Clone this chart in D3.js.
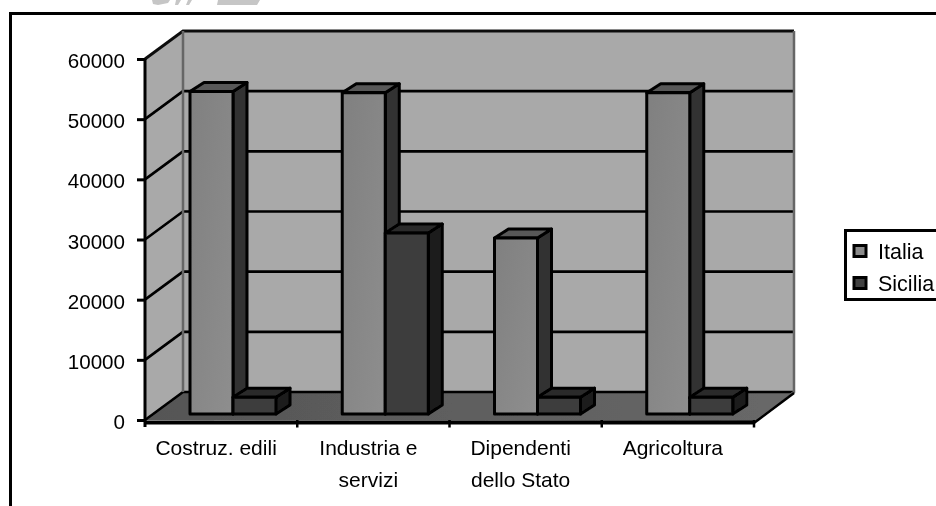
<!DOCTYPE html>
<html><head><meta charset="utf-8">
<script src="https://cdn.jsdelivr.net/npm/d3@7"></script>
<style>html,body{margin:0;padding:0;background:#fff;overflow:hidden}svg{display:block}text{font-family:"Liberation Sans",Arial,sans-serif;fill:#000}</style>
</head><body><svg id="c" width="936" height="506"></svg>
<script>
const categories=[["Costruz. edili"],["Industria e","servizi"],["Dipendenti","dello Stato"],["Agricoltura"]];
const seriesNames=["Italia","Sicilia"];
const italia=[53600,53400,29250,53400];
const sicilia=[2800,30080,2800,2800];
const yTicks=[0,10000,20000,30000,40000,50000,60000];
const fills={Italia:{front:"url(#gI)",side:"#333333",top:"#585858",sw:"#8a8a8a"},Sicilia:{front:"#3c3c3c",side:"#1e1e1e",top:"#2b2b2b",sw:"#404040"}};
const values={Italia:italia,Sicilia:sicilia};

const W=936,H=506,svg=d3.select("#c");
const defs=svg.append("defs");
const lg=defs.append("linearGradient").attr("id","gI").attr("x1",0).attr("y1",0).attr("x2",1).attr("y2",1);
lg.append("stop").attr("offset",0).attr("stop-color","#808080");
lg.append("stop").attr("offset",1).attr("stop-color","#8e8e8e");
const fg=defs.append("linearGradient").attr("id","gF").attr("x1",0).attr("x2",1);
fg.append("stop").attr("offset",0).attr("stop-color","#555");
fg.append("stop").attr("offset",1).attr("stop-color","#686868");
defs.append("filter").attr("id","soft").append("feGaussianBlur").attr("stdDeviation",0.35);
const g=svg.append("g").attr("filter","url(#soft)");

const L=145,R=754,DX=38,DY=28,bdx=14,bdy=9,planeY=6;
const catKeys=categories.map(c=>c.join(" "));
const y=d3.scaleLinear().domain([0,60000]).range([420,59]);
const x=d3.scaleBand().domain(catKeys).range([L,R]);
const xs=d3.scaleBand().domain(seriesNames).range([45,131]);
const line=d3.line();
const poly=(pts,fill,stroke,sw)=>g.append("path").attr("d",line(pts)+"Z").attr("fill",fill).attr("stroke",stroke||"none").attr("stroke-width",sw||0).attr("stroke-linejoin","round");

// watermark fragments and frame
[[[152,0],[170,0],[168,3],[158,5],[153,4]],[[176,0],[181,0],[178,5],[175,5]],[[188,0],[192,0],[189,5],[186,5]],[[218,0],[260,0],[257,5],[217,5]]].forEach(p=>poly(p,"#c6c6c6"));
g.append("path").attr("d","M10.5,506V13.5H936").attr("fill","none").attr("stroke","#000").attr("stroke-width",3);

// walls and floor
const yT=y(60000),y0=y(0);
poly([[L,yT],[L+DX,yT-DY],[L+DX,y0-DY],[L,y0]],"#a9a9a9");
poly([[L+DX,yT-DY],[R+DX+2,yT-DY],[R+DX+2,y0-DY],[L+DX,y0-DY]],"#a9a9a9");
poly([[L,y0],[L+DX,y0-DY],[R+DX+2,y0-DY],[R,y0+1]],"url(#gF)");

// gridlines
yTicks.filter(t=>t<60000).forEach(t=>{
  const v=y(t);
  g.append("path").attr("d",line([[L,v],[L+DX,v-DY],[R+DX+2,v-DY]])).attr("fill","none").attr("stroke","#000").attr("stroke-width",2.6);
});
g.append("path").attr("d",line([[L,yT],[L+DX,yT-DY],[R+DX+2,yT-DY]])).attr("fill","none").attr("stroke","#111").attr("stroke-width",3);
g.append("path").attr("d",line([[L+DX,yT-DY],[L+DX,y0-DY]])).attr("fill","none").attr("stroke","#666").attr("stroke-width",2.5);
g.append("path").attr("d",line([[R+DX+2,yT-DY],[R+DX+2,y0-DY],[R,y0+2]])).attr("fill","none").attr("stroke","#666").attr("stroke-width",2.5);
g.append("path").attr("d",line([[R,y0+3],[R+DX+2,y0-DY+1]])).attr("fill","none").attr("stroke","#000").attr("stroke-width",2.5);

// bars
catKeys.forEach((k,i)=>{
  seriesNames.forEach(s=>{
    const x0=x(k)+xs(s),x1=x0+xs.bandwidth(),top=y(values[s][i])-planeY,base=y0-planeY,f=fills[s];
    poly([[x1,top],[x1+bdx,top-bdy],[x1+bdx,base-bdy],[x1,base]],f.side,"#000",3);
    poly([[x0,top],[x0+bdx,top-bdy],[x1+bdx,top-bdy],[x1,top]],f.top,"#000",3);
    poly([[x0,top],[x1,top],[x1,base],[x0,base]],f.front,"#000",3);
  });
});

// axes
const yAxis=d3.axisLeft(y).tickValues(yTicks).tickSize(8).tickPadding(10).tickFormat(d3.format("d"));
const ya=g.append("g").attr("transform",`translate(${L},0)`).call(yAxis);
ya.select(".domain").attr("stroke","#000").attr("stroke-width",3).attr("d",`M0,${yT}V${y0+7}`);
ya.selectAll(".tick line").attr("stroke","#000").attr("stroke-width",3);
ya.selectAll(".tick text").attr("font-size",20.6).attr("dy",null).attr("y",8.5).attr("x",-20).attr("fill","#000");
g.append("line").attr("x1",L).attr("x2",R).attr("y1",y0+2.5).attr("y2",y0+2.5).attr("stroke","#000").attr("stroke-width",4);
catKeys.forEach((k,i)=>{
  const t=x(k)+x.step();
  g.append("line").attr("x1",t).attr("x2",t).attr("y1",y0).attr("y2",y0+7.5).attr("stroke","#000").attr("stroke-width",2.5);
  const lab=g.append("text").attr("text-anchor","middle").attr("font-size",21);
  categories[i].forEach((ln,j)=>lab.append("tspan").attr("x",x(k)+x.step()/2-5).attr("y",455+32*j).text(ln));
});

// legend
g.append("rect").attr("x",845.5).attr("y",230.5).attr("width",110).attr("height",69).attr("fill","#fff").attr("stroke","#000").attr("stroke-width",3);
const legY=d3.scalePoint().domain(seriesNames).range([251,283]);
seriesNames.forEach(s=>{
  g.append("rect").attr("x",854).attr("y",legY(s)-5.5).attr("width",12).attr("height",11).attr("fill",fills[s].sw).attr("stroke","#000").attr("stroke-width",3);
  g.append("text").attr("x",878).attr("y",legY(s)+7.5).attr("font-size",21.5).text(s);
});
</script></body></html>
